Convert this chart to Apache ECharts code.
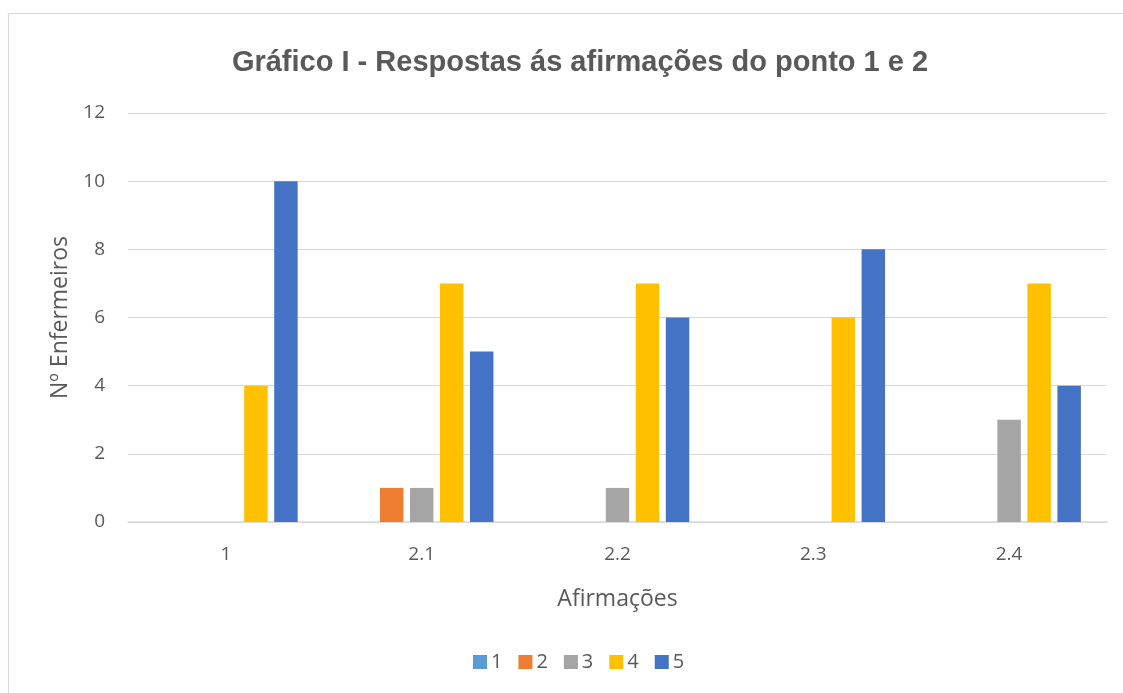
<!DOCTYPE html>
<html><head><meta charset="utf-8">
<script src="https://cdn.jsdelivr.net/npm/echarts@6/dist/echarts.min.js"></script>
<style>html,body{margin:0;padding:0;background:#fff}#c{width:1123px;height:693px}</style>
</head><body><div id="c"></div>
<script>
const categories = ['1', '2.1', '2.2', '2.3', '2.4'];
const seriesNames = ['1', '2', '3', '4', '5'];
const s1 = [0, 0, 0, 0, 0];
const s2 = [0, 1, 0, 0, 0];
const s3 = [0, 1, 1, 0, 3];
const s4 = [4, 7, 7, 6, 7];
const s5 = [10, 5, 6, 8, 4];
const yTicks = [0, 2, 4, 6, 8, 10, 12];
const colors = ['#5B9BD5', '#ED7D31', '#A5A5A5', '#FFC000', '#4472C4'];
const values = [s1, s2, s3, s4, s5];

const font = '"Open Sans", "Noto Sans", sans-serif';
const chart = echarts.init(document.getElementById('c'));
chart.setOption({
  animation: false,
  color: colors,
  graphic: [{
    type: 'rect', shape: { x: 8.5, y: 13.5, width: 1130, height: 700 },
    style: { fill: 'none', stroke: '#D9D9D9', lineWidth: 1.2 }, silent: true
  }],
  title: {
    text: 'Gráfico I - Respostas ás afirmações do ponto 1 e 2',
    left: 575, top: 43, textAlign: 'center',
    textStyle: { fontFamily: '"Liberation Sans", Arial, sans-serif', fontSize: 29, fontWeight: 'bold', color: '#595959' }
  },
  legend: {
    data: seriesNames, bottom: 16, left: 468, itemWidth: 14, itemHeight: 14, itemGap: 16,
    icon: 'rect',
    textStyle: { fontFamily: font, fontSize: 20, color: '#595959', padding: [0, 0, 0, -1] }
  },
  grid: { left: 128, right: 16, top: 113, bottom: 171 },
  xAxis: {
    type: 'category', data: categories,
    name: 'Afirmações', nameLocation: 'middle', nameGap: 66,
    nameTextStyle: { fontFamily: font, fontSize: 23, color: '#595959' },
    axisLine: { lineStyle: { color: '#D9D9D9', width: 1.5 } },
    axisTick: { show: false },
    axisLabel: { fontFamily: font, fontSize: 19, color: '#595959', margin: 23 }
  },
  yAxis: {
    type: 'value', min: 0, max: 12, interval: 2,
    name: 'Nº Enfermeiros', nameLocation: 'middle', nameGap: 52, nameRotate: 90,
    nameTextStyle: { fontFamily: font, fontSize: 23, color: '#595959' },
    axisLine: { show: false }, axisTick: { show: false },
    splitLine: { lineStyle: { color: '#D9D9D9', width: 1.2 } },
    axisLabel: { fontFamily: font, fontSize: 19, color: '#595959', margin: 23,
      formatter: v => yTicks.includes(v) ? String(v) : '' }
  },
  series: seriesNames.map((n, i) => ({
    name: n, type: 'bar', data: values[i],
    barGap: '28%', barCategoryGap: '26.7%',
    itemStyle: { color: colors[i] }
  }))
});
</script></body></html>
